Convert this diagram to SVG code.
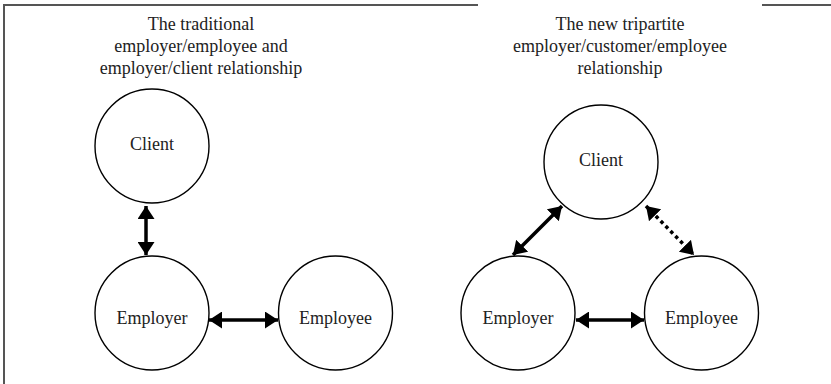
<svg xmlns="http://www.w3.org/2000/svg" width="831" height="384" viewBox="0 0 831 384">
<style>
.node circle{fill:#fff;stroke:#000;stroke-width:1.4}
text{font-family:"Liberation Serif","Times New Roman",serif;font-size:18px;fill:#222;text-anchor:middle}
.frame{stroke:#555;stroke-width:2;fill:none}
.conn line{stroke:#000;stroke-width:3.5}
.dotted{stroke-dasharray:3.5 3.5}
</style>
<defs>
<marker id="ah" markerUnits="userSpaceOnUse" markerWidth="13" markerHeight="17" refX="13" refY="8.5" orient="auto-start-reverse" viewBox="0 0 13 17">
<path d="M0,0 L13,8.5 L0,17 z" fill="#000"/>
</marker>
</defs>
<rect width="831" height="384" fill="#fff"/>
<g id="frame">
<path class="frame" d="M4,384 V5 H478"/>
<path class="frame" d="M762,5 H831"/>
</g>
<g id="titles">
<text x="201" y="30">The traditional</text>
<text x="201" y="52">employer/employee and</text>
<text x="201" y="74">employer/client relationship</text>
<text x="620" y="30">The new tripartite</text>
<text x="620" y="52">employer/customer/employee</text>
<text x="620" y="74">relationship</text>
</g>
<g id="connectors" class="conn">
<line x1="146" y1="206" x2="146" y2="255" marker-start="url(#ah)" marker-end="url(#ah)"/>
<line x1="209" y1="320" x2="278" y2="320" marker-start="url(#ah)" marker-end="url(#ah)"/>
<line x1="576" y1="320" x2="644" y2="320" marker-start="url(#ah)" marker-end="url(#ah)"/>
<line x1="562" y1="206" x2="513" y2="255" marker-start="url(#ah)" marker-end="url(#ah)"/>
<line class="dotted" x1="646" y1="206" x2="694" y2="255" marker-start="url(#ah)" marker-end="url(#ah)"/>
</g>
<g id="client-left" class="node"><circle cx="152" cy="146" r="57"/><text x="152" y="150">Client</text></g>
<g id="employer-left" class="node"><circle cx="152" cy="313" r="57"/><text x="152" y="324">Employer</text></g>
<g id="employee-left" class="node"><circle cx="335.5" cy="313" r="57"/><text x="335.5" y="324">Employee</text></g>
<g id="client-right" class="node"><circle cx="601" cy="162" r="57"/><text x="601" y="166">Client</text></g>
<g id="employer-right" class="node"><circle cx="518" cy="313" r="57"/><text x="518" y="324">Employer</text></g>
<g id="employee-right" class="node"><circle cx="701.5" cy="313" r="57"/><text x="701.5" y="324">Employee</text></g>
</svg>
